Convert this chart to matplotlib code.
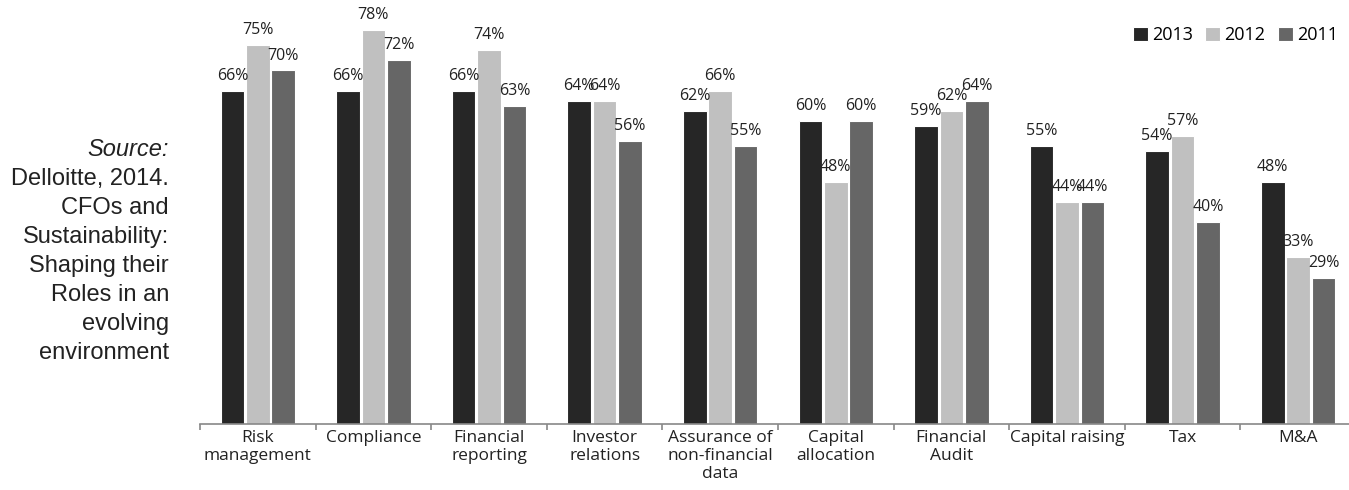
import numpy as np
import matplotlib.pyplot as plt

categories = ["Risk\nmanagement", "Compliance", "Financial\nreporting", "Investor\nrelations",
              "Assurance of\nnon-financial\ndata", "Capital\nallocation", "Financial\nAudit",
              "Capital raising", "Tax", "M&A"]
years = ["2013", "2012", "2011"]
values_2013 = [66, 66, 66, 64, 62, 60, 59, 55, 54, 48]
values_2012 = [75, 78, 74, 64, 66, 48, 62, 44, 57, 33]
values_2011 = [70, 72, 63, 56, 55, 60, 64, 44, 40, 29]
colors = ["#262626", "#c0c0c0", "#666666"]

source_lines = ["Delloitte, 2014.", "CFOs and", "Sustainability:", "Shaping their",
                "Roles in an", "evolving", "environment"]

W, H = 1349, 490
fig = plt.figure(figsize=(W / 100, H / 100), dpi=100)
ax = fig.add_axes([200 / W, 66 / H, 1156 / W, 404 / H])

x = np.arange(len(categories))
step = 0.22
width = 0.205
series = [values_2013, values_2012, values_2011]
for i, (vals, year, col) in enumerate(zip(series, years, colors)):
    pos = x + (i - 1) * step
    ax.bar(pos, vals, width=width, color=col, edgecolor="white", linewidth=0.8, label=year)
    for xp, v in zip(pos, vals):
        ax.annotate(f"{v}%", (xp, v), xytext=(0, 5), textcoords="offset points",
                    ha="center", va="bottom", fontsize=11.5, family="Open Sans", color="#222222")

ax.set_xlim(-0.5, len(categories) - 0.5)
ax.set_ylim(0, 80)
ax.set_yticks([])
for side in ["left", "right", "top"]:
    ax.spines[side].set_visible(False)
ax.spines["bottom"].set_color("#888888")
ax.spines["bottom"].set_linewidth(1.2)

ax.set_xticks(x)
ax.set_xticklabels(categories, fontsize=12.5, family="Open Sans", color="#222222", linespacing=1.2)
ax.tick_params(axis="x", which="major", length=0, pad=4)
ax.set_xticks(np.arange(len(categories) + 1) - 0.5, minor=True)
ax.tick_params(axis="x", which="minor", length=4, width=1.2, color="#888888")

fig.legend(loc="center right", bbox_to_anchor=(1338 / W, 1 - 35 / H), ncol=3, frameon=False,
           prop={"family": "Open Sans", "size": 13}, handlelength=0.83, handleheight=0.83,
           handletextpad=0.22, columnspacing=0.7, borderpad=0, borderaxespad=0)

# citation block on the left
fig.text(169 / W, 1 - 150 / H, "Source:", ha="right", va="center", fontsize=17,
         family="Liberation Sans", style="italic", color="#222222")
for k, line in enumerate(source_lines):
    fig.text(169 / W, 1 - (179 + 29 * k) / H, line, ha="right", va="center", fontsize=17,
             family="Liberation Sans", color="#222222")

fig.savefig("out.png", dpi=100)
